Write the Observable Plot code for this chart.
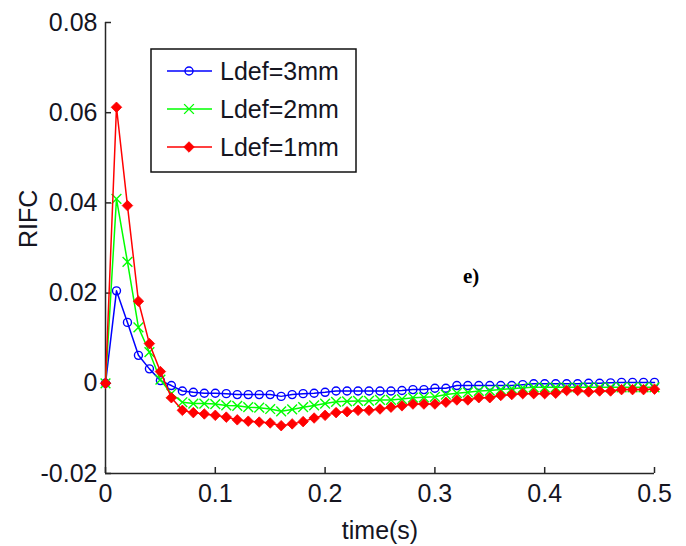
<!DOCTYPE html>
<html>
<head>
<meta charset="utf-8">
<script src="https://cdn.jsdelivr.net/npm/d3@7"></script>
<script src="https://cdn.jsdelivr.net/npm/@observablehq/plot@0.6"></script>
<style>
  html, body { margin: 0; padding: 0; background: #fff; }
  #chart { width: 686px; height: 546px; }
</style>
</head>
<body>
<div id="chart"></div>
<script>
// ---- data ----
const time = [0, 0.01, 0.02, 0.03, 0.04, 0.05, 0.06, 0.07, 0.08, 0.09,
  0.10, 0.11, 0.12, 0.13, 0.14, 0.15, 0.16, 0.17, 0.18, 0.19,
  0.20, 0.21, 0.22, 0.23, 0.24, 0.25, 0.26, 0.27, 0.28, 0.29,
  0.30, 0.31, 0.32, 0.33, 0.34, 0.35, 0.36, 0.37, 0.38, 0.39,
  0.40, 0.41, 0.42, 0.43, 0.44, 0.45, 0.46, 0.47, 0.48, 0.49, 0.50];

const ldef3mm = [0, 0.0205, 0.0135, 0.0062, 0.0032, 0.0006, -0.0005, -0.0017, -0.0020, -0.0022,
  -0.0022, -0.0023, -0.0025, -0.0025, -0.0025, -0.0025, -0.0029, -0.0025, -0.0023, -0.0022,
  -0.0020, -0.0017, -0.0017, -0.0017, -0.0017, -0.0017, -0.0017, -0.0016, -0.0014, -0.0014,
  -0.0011, -0.0011, -0.0005, -0.0005, -0.0005, -0.0005, -0.0005, -0.0005, -0.0003, -0.0001,
  -0.0001, -0.0001, -0.0001, -0.0001, 0.0000, 0.0000, 0.0001, 0.0002, 0.0002, 0.0002, 0.0002];

const ldef2mm = [0, 0.0409, 0.0269, 0.0124, 0.0069, 0.0008, -0.0023, -0.0042, -0.0045, -0.0045,
  -0.0046, -0.0049, -0.0050, -0.0053, -0.0054, -0.0057, -0.0062, -0.0058, -0.0053, -0.0049,
  -0.0045, -0.0041, -0.0040, -0.0039, -0.0039, -0.0037, -0.0037, -0.0035, -0.0032, -0.0031,
  -0.0030, -0.0025, -0.0022, -0.0020, -0.0017, -0.0016, -0.0014, -0.0012, -0.0010, -0.0009,
  -0.0009, -0.0009, -0.0009, -0.0009, -0.0009, -0.0009, -0.0009, -0.0009, -0.0009, -0.0009, -0.0009];

const ldef1mm = [0, 0.0612, 0.0394, 0.0182, 0.0088, 0.0026, -0.0032, -0.0060, -0.0065, -0.0068,
  -0.0071, -0.0075, -0.0081, -0.0084, -0.0086, -0.0088, -0.0094, -0.0090, -0.0085, -0.0077,
  -0.0071, -0.0065, -0.0063, -0.0060, -0.0060, -0.0057, -0.0053, -0.0050, -0.0046, -0.0046,
  -0.0046, -0.0042, -0.0037, -0.0037, -0.0032, -0.0032, -0.0027, -0.0025, -0.0023, -0.0023,
  -0.0023, -0.0022, -0.0016, -0.0016, -0.0019, -0.0017, -0.0017, -0.0014, -0.0014, -0.0014, -0.0013];

const seriesNames = ["Ldef=3mm", "Ldef=2mm", "Ldef=1mm"];
const seriesColors = ["#0000ff", "#00ff00", "#ff0000"];
const xTicks = [0, 0.1, 0.2, 0.3, 0.4, 0.5];
const yTicks = [-0.02, 0, 0.02, 0.04, 0.06, 0.08];
const xLabel = "time(s)";
const yLabel = "RIFC";
const panelTag = [{x: 0.333, y: 0.0238, text: "e)"}];

// ---- build ----
const W = 686, H = 546;
const mL = 105, mR = 32, mT = 22, mB = 73;
const frameW = W - mL - mR, frameH = H - mT - mB;

const allValues = [ldef3mm, ldef2mm, ldef1mm];
const rows = [];
allValues.forEach((vals, si) => vals.forEach((v, i) => rows.push({t: time[i], v, s: seriesNames[si]})));
const bySeries = name => rows.filter(d => d.s === name);

// square diamond symbol (MATLAB 'd')
const diamondSq = {
  draw(ctx, size) {
    const h = Math.sqrt(size / 2);
    ctx.moveTo(0, -h); ctx.lineTo(h, 0); ctx.lineTo(0, h); ctx.lineTo(-h, 0); ctx.closePath();
  }
};

const fmtX = d => d === 0 ? "0" : String(+d.toFixed(1));
const fmtY = d => d === 0 ? "0" : d.toFixed(2);
const ink = "#15151f";

const plot = Plot.plot({
  width: W, height: H,
  marginLeft: mL, marginRight: mR, marginTop: mT, marginBottom: mB,
  style: {fontFamily: "'Liberation Sans', Arial, sans-serif", fontSize: "25px", color: ink, background: "#fff"},
  x: {domain: [0, 0.5]},
  y: {domain: [-0.02, 0.08]},
  marks: [
    // axes
    Plot.axisX(xTicks, {tickSize: 0, tickPadding: 11, tickFormat: fmtX, label: null, fill: ink}),
    Plot.axisY(yTicks, {tickSize: 0, tickPadding: 8, tickFormat: fmtY, label: null, fill: ink}),
    Plot.ruleX(xTicks, {x: d => d, insetTop: frameH - 6, stroke: "#262626", strokeWidth: 1.5}),
    Plot.ruleY(yTicks, {y: d => d, insetRight: frameW - 6, stroke: "#262626", strokeWidth: 1.5}),
    Plot.ruleX([0], {stroke: "#262626", strokeWidth: 1.5}),
    Plot.ruleY([-0.02], {stroke: "#262626", strokeWidth: 1.5}),
    // series
    Plot.line(bySeries(seriesNames[0]), {x: "t", y: "v", stroke: seriesColors[0], strokeWidth: 1.5}),
    Plot.dot(bySeries(seriesNames[0]), {x: "t", y: "v", stroke: seriesColors[0], symbol: "circle", r: 4, strokeWidth: 1.4, fill: "none"}),
    Plot.line(bySeries(seriesNames[1]), {x: "t", y: "v", stroke: seriesColors[1], strokeWidth: 1.5}),
    Plot.dot(bySeries(seriesNames[1]), {x: "t", y: "v", stroke: seriesColors[1], symbol: "times", r: 4.5, strokeWidth: 1.4}),
    Plot.line(bySeries(seriesNames[2]), {x: "t", y: "v", stroke: seriesColors[2], strokeWidth: 1.5}),
    Plot.dot(bySeries(seriesNames[2]), {x: "t", y: "v", fill: seriesColors[2], stroke: seriesColors[2], strokeWidth: 0.8, symbol: diamondSq, r: 4.2}),
    // labels
    Plot.text([xLabel], {text: d => d, frameAnchor: "bottom", dy: 57, lineAnchor: "middle", fill: ink}),
    Plot.text([yLabel], {text: d => d, frameAnchor: "left", dx: -77, rotate: -90, lineAnchor: "middle", fill: ink}),
    Plot.text(panelTag, {x: "x", y: "y", text: "text", fontFamily: "'Liberation Serif', 'Times New Roman', serif", fontWeight: "bold", fontSize: 21, fill: "#000"})
  ]
});

document.getElementById("chart").appendChild(plot);

// ---- legend (inside plot area, top-left) ----
const svg = d3.select(plot);
const lg = svg.append("g").attr("class", "legend").attr("text-anchor", "start");
const boxX = 151, boxY = 49, boxW = 205, boxH = 123;
lg.append("rect").attr("x", boxX).attr("y", boxY).attr("width", boxW).attr("height", boxH)
  .attr("fill", "#fff").attr("stroke", "#111").attr("stroke-width", 1.5);
const symbols = [d3.symbol(d3.symbolCircle, Math.PI * 16), d3.symbol(d3.symbolTimes, Math.PI * 20.25), d3.symbol(diamondSq, Math.PI * 17.6)];
seriesNames.forEach((name, i) => {
  const cy = 71 + i * 38;
  const g = lg.append("g");
  g.append("line").attr("x1", 167).attr("x2", 212).attr("y1", cy).attr("y2", cy)
    .attr("stroke", seriesColors[i]).attr("stroke-width", 1.5);
  const p = g.append("path").attr("d", symbols[i]()).attr("transform", `translate(189,${cy})`);
  if (i === 2) p.attr("fill", seriesColors[i]).attr("stroke", seriesColors[i]).attr("stroke-width", 0.8);
  else p.attr("fill", "none").attr("stroke", seriesColors[i]).attr("stroke-width", 1.4);
  g.append("text").attr("x", 220).attr("y", cy).attr("dy", "0.35em").attr("text-anchor", "start")
    .attr("fill", ink).attr("font-size", 25).text(name);
});
</script>
</body>
</html>
